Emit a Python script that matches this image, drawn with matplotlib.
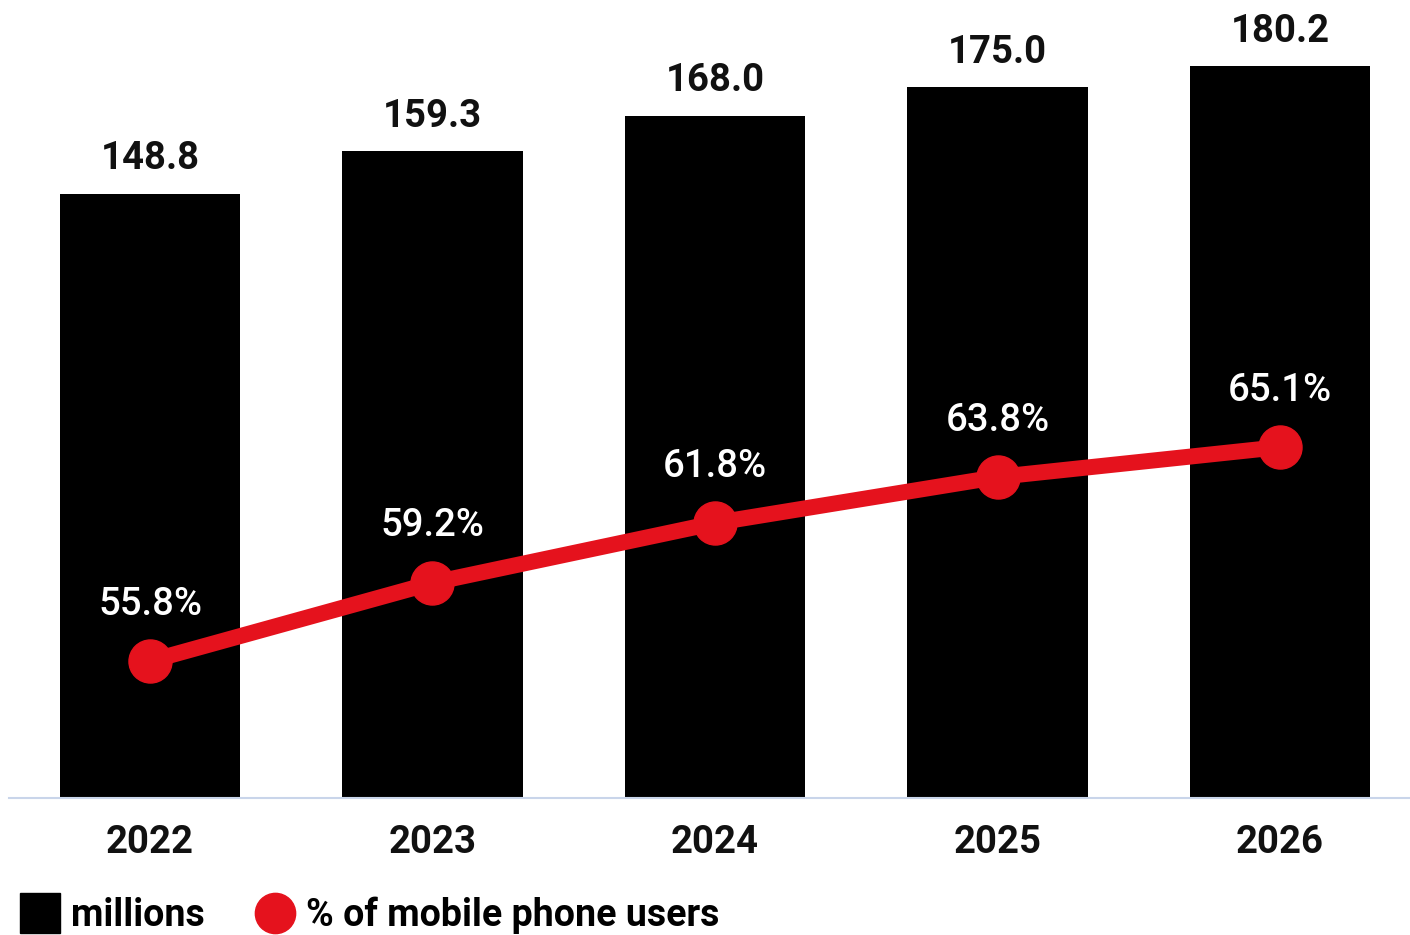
import matplotlib
matplotlib.use("Agg")
import matplotlib.pyplot as plt
from matplotlib.lines import Line2D

years = ["2022", "2023", "2024", "2025", "2026"]
millions = [148.8, 159.3, 168.0, 175.0, 180.2]
pct_users = [55.8, 59.2, 61.8, 63.8, 65.1]
bar_labels = ["148.8", "159.3", "168.0", "175.0", "180.2"]
pct_labels = ["55.8%", "59.2%", "61.8%", "63.8%", "65.1%"]

RED = "#e5121d"
FONT = "Roboto"
plt.rcParams["font.family"] = [FONT, "DejaVu Sans"]

fig = plt.figure(figsize=(14.10, 9.35), dpi=100)
ax = fig.add_axes([9 / 1410, 137.5 / 935, 1 - 9 / 1410, 797.5 / 935])
x = list(range(len(years)))

ax.bar(x, millions, width=0.638, color="black", zorder=2)
ax.set_xlim(-0.499, 4.46)
ax.set_ylim(0, 196.5)
for xi, v, lab in zip(x, millions, bar_labels):
    ax.annotate(lab, (xi, v), xytext=(0, 25), textcoords="offset points",
                ha="center", va="center", fontsize=27.5, fontweight="bold", color="#111111")

for s in ["top", "right", "left"]:
    ax.spines[s].set_visible(False)
ax.spines["bottom"].set_color("#c9d5ea")
ax.spines["bottom"].set_linewidth(1.5)
ax.set_yticks([])
ax.set_xticks(x)
ax.set_xticklabels(years, fontsize=27.5, fontweight="bold", color="#111111")
ax.tick_params(axis="x", length=0, pad=19)

ax2 = ax.twinx()
ax2.set_ylim(49.87, 84.53)
ax2.set_yticks([])
for s in ["top", "right", "left", "bottom"]:
    ax2.spines[s].set_visible(False)
ax2.plot(x, pct_users, color=RED, lw=11.5, marker="o", markersize=31,
         solid_capstyle="round", zorder=3)
for xi, v, lab in zip(x, pct_users, pct_labels):
    ax2.annotate(lab, (xi, v), xytext=(0, 41), textcoords="offset points",
                 ha="center", va="center", fontsize=27.5, fontweight="medium", color="white")

handles = [
    Line2D([], [], marker="s", color="black", linestyle="none", markersize=29),
    Line2D([], [], marker="o", color=RED, linestyle="none", markersize=29),
]
fig.legend(handles, ["millions", "% of mobile phone users"], loc="center left",
           bbox_to_anchor=(17 / 1410, (935 - 915) / 935), ncol=2, frameon=False,
           prop={"family": FONT, "size": 27, "weight": "bold"},
           handletextpad=0.25, columnspacing=1.25, handlelength=1.2,
           borderaxespad=0, borderpad=0.0)

fig.savefig("out.png", dpi=100)
